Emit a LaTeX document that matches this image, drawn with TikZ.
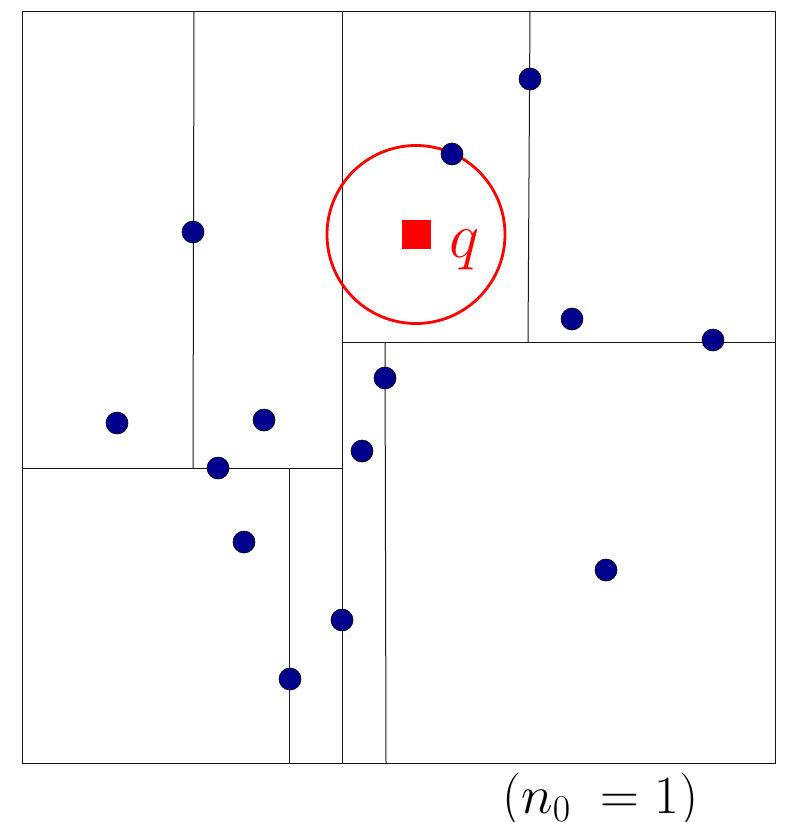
\documentclass[tikz,border=0pt]{standalone}
\usepackage{fix-cm}
\begin{document}
\begin{tikzpicture}[x=1pt,y=-1pt,
  split/.style={draw=black!90,line width=1pt},
  dot/.style={circle,draw=black,line width=0.6pt,fill={rgb,255:red,0;green,0;blue,140},minimum size=22pt,inner sep=0pt},
  qcol/.style={red}]
\useasboundingbox (0,0) rectangle (790,822);
% outer box and splits
\draw[split] (22,11) rectangle (775,763);
\draw[split] (342,11) -- (342,763);
\draw[split] (22,468) -- (342,468);
\draw[split] (194,11) -- (193,468);
\draw[split] (289,468) -- (289,763);
\draw[split] (342,342) -- (775,342);
\draw[split] (530,11) -- (528,342);
\draw[split] (385,342) -- (386,763);
% query
\node[draw=red,line width=2.8pt,circle,minimum size=178pt,inner sep=0pt] (ball) at (416,234.5) {};
\node[fill=red,minimum size=29pt,inner sep=0pt] (q) at (416.5,234.5) {};
\node[qcol,anchor=base west,inner sep=0pt,font=\fontsize{64}{70}\selectfont] (qlab) at (449,257) {$q$};
% points
\node[dot] (p1) at (530,79) {};
\node[dot] (p2) at (452,154) {};
\node[dot] (p3) at (193,232) {};
\node[dot] (p4) at (572,319) {};
\node[dot] (p5) at (713,340) {};
\node[dot] (p6) at (385,378) {};
\node[dot] (p7) at (117,423) {};
\node[dot] (p8) at (264,420) {};
\node[dot] (p9) at (362,451) {};
\node[dot] (p10) at (218,468) {};
\node[dot] (p11) at (244,542) {};
\node[dot] (p12) at (606,570) {};
\node[dot] (p13) at (342,620) {};
\node[dot] (p14) at (290,679) {};
% label
\node[anchor=base west,inner sep=0pt,font=\fontsize{54}{60}\selectfont] (lab) at (502,813) {$(n_0\mkern5mu= 1)$};
\end{tikzpicture}
\end{document}
